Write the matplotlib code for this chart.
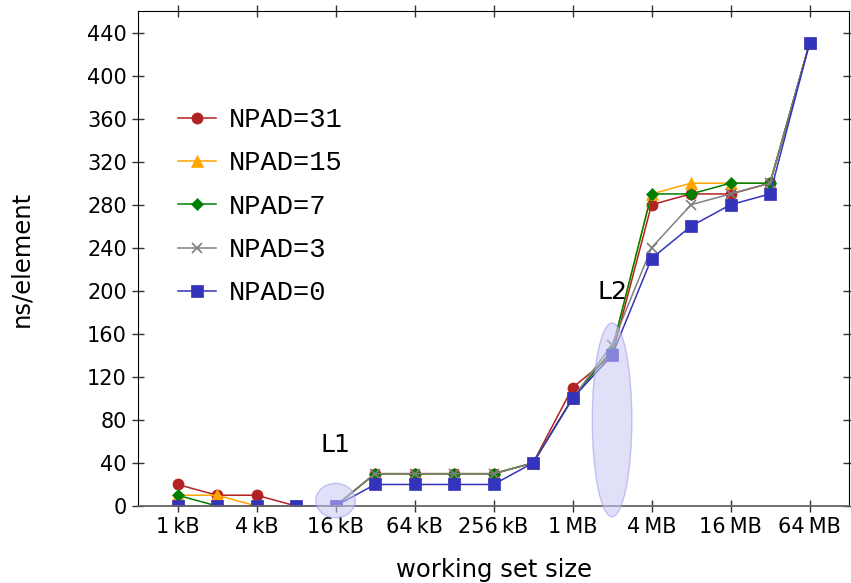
import numpy as np
import matplotlib.pyplot as plt
from matplotlib.patches import Ellipse

# working set sizes in kB
working_set_kb = [1, 2, 4, 8, 16, 32, 64, 128, 256, 512,
                  1024, 2048, 4096, 8192, 16384, 32768, 65536]

npad31 = [20, 10, 10, 0, 0, 30, 30, 30, 30, 40, 110, 140, 280, 290, 290, 300, 430]
npad15 = [10, 10, 0, 0, 0, 30, 30, 30, 30, 40, 100, 145, 290, 300, 300, 300, 430]
npad7 = [10, 0, 0, 0, 0, 30, 30, 30, 30, 40, 100, 145, 290, 290, 300, 300, 430]
npad3 = [0, 0, 0, 0, 0, 30, 30, 30, 30, 40, 100, 150, 240, 280, 290, 300, 430]
npad0 = [0, 0, 0, 0, 0, 20, 20, 20, 20, 40, 100, 140, 230, 260, 280, 290, 430]

tick_kb = [1, 4, 16, 64, 256, 1024, 4096, 16384, 65536]
tick_labels = ['1\u2009kB', '4\u2009kB', '16\u2009kB', '64\u2009kB', '256\u2009kB',
               '1\u2009MB', '4\u2009MB', '16\u2009MB', '64\u2009MB']

plt.rcParams['font.family'] = ['DejaVu Sans']

fig = plt.figure(figsize=(8.51, 5.83), dpi=100)
ax = fig.add_axes([0.1622, 0.1321, 0.8355, 0.849])

x = np.log2(working_set_kb)

series = [
    ('NPAD=31', npad31, '#b22222', 'o', 8),
    ('NPAD=15', npad15, '#ffa500', '^', 8),
    ('NPAD=7', npad7, '#008000', 'D', 6.5),
    ('NPAD=3', npad3, '#808080', 'x', 7),
    ('NPAD=0', npad0, '#3333bb', 's', 8),
]
for name, vals, col, mk, ms in series:
    ax.plot(x, vals, color=col, marker=mk, markersize=ms, lw=1.1,
            markeredgewidth=1.2 if mk == 'x' else 0.5, label=name)

# cache-size highlights
ax.add_patch(Ellipse((np.log2(16), 5), 1.0, 32, facecolor='#c8c8f5', alpha=0.55,
                     edgecolor='#9999ee', lw=1, zorder=5, clip_on=False))
ax.add_patch(Ellipse((np.log2(2048), 80), 1.0, 180, facecolor='#c8c8f5', alpha=0.55,
                     edgecolor='#9999ee', lw=1, zorder=5, clip_on=False))
ax.text(np.log2(16), 57, 'L1', fontsize=18, ha='center', va='center')
ax.text(np.log2(2048), 199, 'L2', fontsize=18, ha='center', va='center')

ax.set_xlim(-1, 17)
ax.set_ylim(0, 460)
ax.set_xticks(np.log2(tick_kb))
ax.set_xticklabels(tick_labels)
ax.set_yticks(range(0, 441, 40))
ax.tick_params(direction='inout', length=9, width=1, labelsize=15,
               top=True, right=True, color='#333333')
ax.spines['bottom'].set_color('#666666')
ax.spines['bottom'].set_linewidth(1.3)

ax.set_xlabel('working set size', fontsize=17.5, labelpad=15)
ax.set_ylabel('ns/element', fontsize=17.5, labelpad=39)

leg = ax.legend(loc='upper left', bbox_to_anchor=(0.056, 0.806), frameon=False,
                prop={'family': 'Liberation Mono', 'size': 19.5},
                borderpad=0, borderaxespad=0,
                handlelength=1.4, labelspacing=0.64, handletextpad=0.48)

fig.savefig('out.png', dpi=100)
plt.close(fig)
